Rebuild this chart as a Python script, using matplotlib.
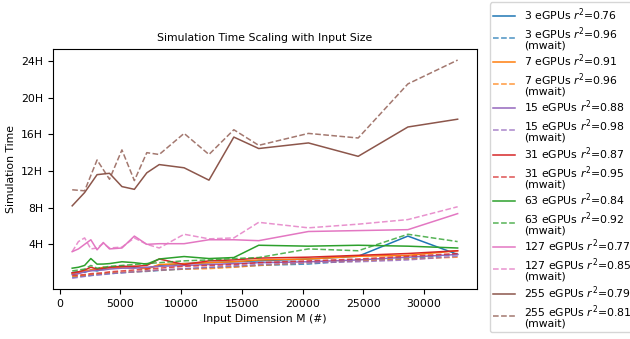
import matplotlib
matplotlib.use("Agg")
import matplotlib.pyplot as plt

# input sizes (M)
x_fine = [1024, 1536, 2048, 2560, 3072, 3584, 4096, 5120, 6144, 7168, 8192,
          10240, 12288, 14336, 16384, 20480, 24576, 28672, 32768]
x_coarse = [1024, 2048, 3072, 4096, 5120, 6144, 7168, 8192,
            10240, 12288, 14336, 16384, 20480, 24576, 28672, 32768]

# simulation time in hours
t3 = [0.9, 1.0, 0.95, 1.2, 1.1, 1.3, 1.5, 1.6, 1.5, 1.4, 1.7, 1.9, 2.0, 2.1, 2.2, 2.4, 2.7, 4.9, 2.9]
t3_mw = [0.4, 0.5, 0.55, 0.6, 0.7, 0.75, 0.8, 0.9, 1.0, 1.05, 1.15, 1.3, 1.45, 1.55, 1.7, 1.85, 2.25, 2.45, 2.9]
t7 = [0.8, 0.9, 1.1, 1.2, 1.3, 1.5, 1.4, 1.5, 1.6, 1.3, 1.8, 1.9, 2.0, 2.1, 2.3, 2.4, 2.7, 2.8, 3.3]
t7_mw = [0.5, 0.55, 0.6, 0.7, 0.75, 0.8, 0.9, 0.95, 1.0, 1.1, 1.2, 1.3, 1.35, 1.5, 1.7, 2.0, 2.2, 2.4, 2.6]
t15 = [0.7, 0.8, 1.0, 1.1, 1.2, 1.2, 1.3, 1.4, 1.4, 1.5, 1.6, 1.7, 1.8, 1.9, 2.0, 2.1, 2.3, 2.6, 2.9]
t15_mw = [0.3, 0.4, 0.5, 0.6, 0.65, 0.7, 0.8, 0.9, 1.0, 1.1, 1.2, 1.35, 1.5, 1.65, 1.8, 2.0, 2.1, 2.3, 2.7]
t31 = [0.9, 1.0, 1.2, 1.5, 1.3, 1.4, 1.5, 1.6, 1.6, 1.7, 2.4, 1.8, 2.2, 2.3, 2.5, 2.6, 2.8, 3.0, 3.3]
t31_mw = [0.6, 0.65, 0.7, 0.8, 0.85, 0.9, 1.0, 1.1, 1.2, 1.3, 1.4, 1.6, 1.7, 1.8, 2.0, 2.2, 2.4, 2.7, 3.0]
t63 = [1.4, 1.5, 1.7, 2.45, 1.84, 1.85, 1.9, 2.1, 2.0, 1.84, 2.4, 2.67, 2.45, 2.56, 3.9, 3.8, 3.9, 3.8, 3.6]
t63_mw = [1.1, 1.2, 1.3, 1.7, 1.4, 1.5, 1.6, 1.7, 1.8, 1.9, 2.0, 2.2, 2.3, 2.45, 2.56, 3.5, 3.3, 5.1, 4.3]
t127 = [3.2, 3.5, 4.0, 4.5, 3.4, 4.2, 3.5, 3.6, 4.9, 4.0, 4.07, 4.07, 4.5, 4.5, 4.4, 5.4, 5.5, 5.6, 7.35]
t127_mw = [3.2, 4.3, 4.7, 3.5, 3.6, 4.1, 3.6, 3.7, 4.7, 4.0, 3.6, 5.1, 4.6, 4.7, 6.4, 5.8, 6.2, 6.7, 8.1]
t255 = [8.2, 9.65, 11.6, 11.75, 10.3, 10.0, 11.8, 12.7, 12.35, 11.0, 15.7, 14.45, 15.06, 13.6, 16.8, 17.65]
t255_mw = [9.95, 9.84, 13.2, 11.1, 14.3, 10.95, 14.0, 13.8, 16.1, 13.8, 16.5, 14.8, 16.1, 15.6, 21.5, 24.1]

gpus = [3, 7, 15, 31, 63, 127, 255]
r2 = [0.76, 0.91, 0.88, 0.87, 0.84, 0.77, 0.79]
r2_mw = [0.96, 0.96, 0.98, 0.95, 0.92, 0.85, 0.81]
solid = [t3, t7, t15, t31, t63, t127, t255]
dashed = [t3_mw, t7_mw, t15_mw, t31_mw, t63_mw, t127_mw, t255_mw]
colors = ['tab:blue', 'tab:orange', 'tab:purple', 'tab:red', 'tab:green', 'tab:pink', 'tab:brown']

yticks = [4, 8, 12, 16, 20, 24]

fs = 7.8
plt.rcParams['font.size'] = fs

fig = plt.figure(figsize=(6.3, 3.39), dpi=100)
ax = fig.add_axes([0.084, 0.147, 0.673, 0.708])

for g, r, rm, ys, ym, c in zip(gpus, r2, r2_mw, solid, dashed, colors):
    xs = x_coarse if g == 255 else x_fine
    ax.plot(xs, ys, '-', color=c, linewidth=1.1, label=f'{g} eGPUs $r^2$={r:.2f}')
    ax.plot(xs, ym, '--', color=c, alpha=0.8, linewidth=1.1,
            label=f'{g} eGPUs $r^2$={rm:.2f}\n(mwait)')

ax.set_yticks(yticks)
ax.set_yticklabels([f'{t}H' for t in yticks])
ax.set_xlabel('Input Dimension M (#)', fontsize=fs)
ax.set_ylabel('Simulation Time', fontsize=fs)
ax.set_title('Simulation Time Scaling with Input Size', fontsize=fs)
ax.tick_params(labelsize=fs)

leg = ax.legend(loc='center left', bbox_to_anchor=(1.03, 0.508), fontsize=fs,
                labelspacing=0.2, borderaxespad=0, borderpad=0.35)
for t in leg.get_texts():
    t.set_linespacing(0.85)

fig.savefig('out.png', dpi=100)
